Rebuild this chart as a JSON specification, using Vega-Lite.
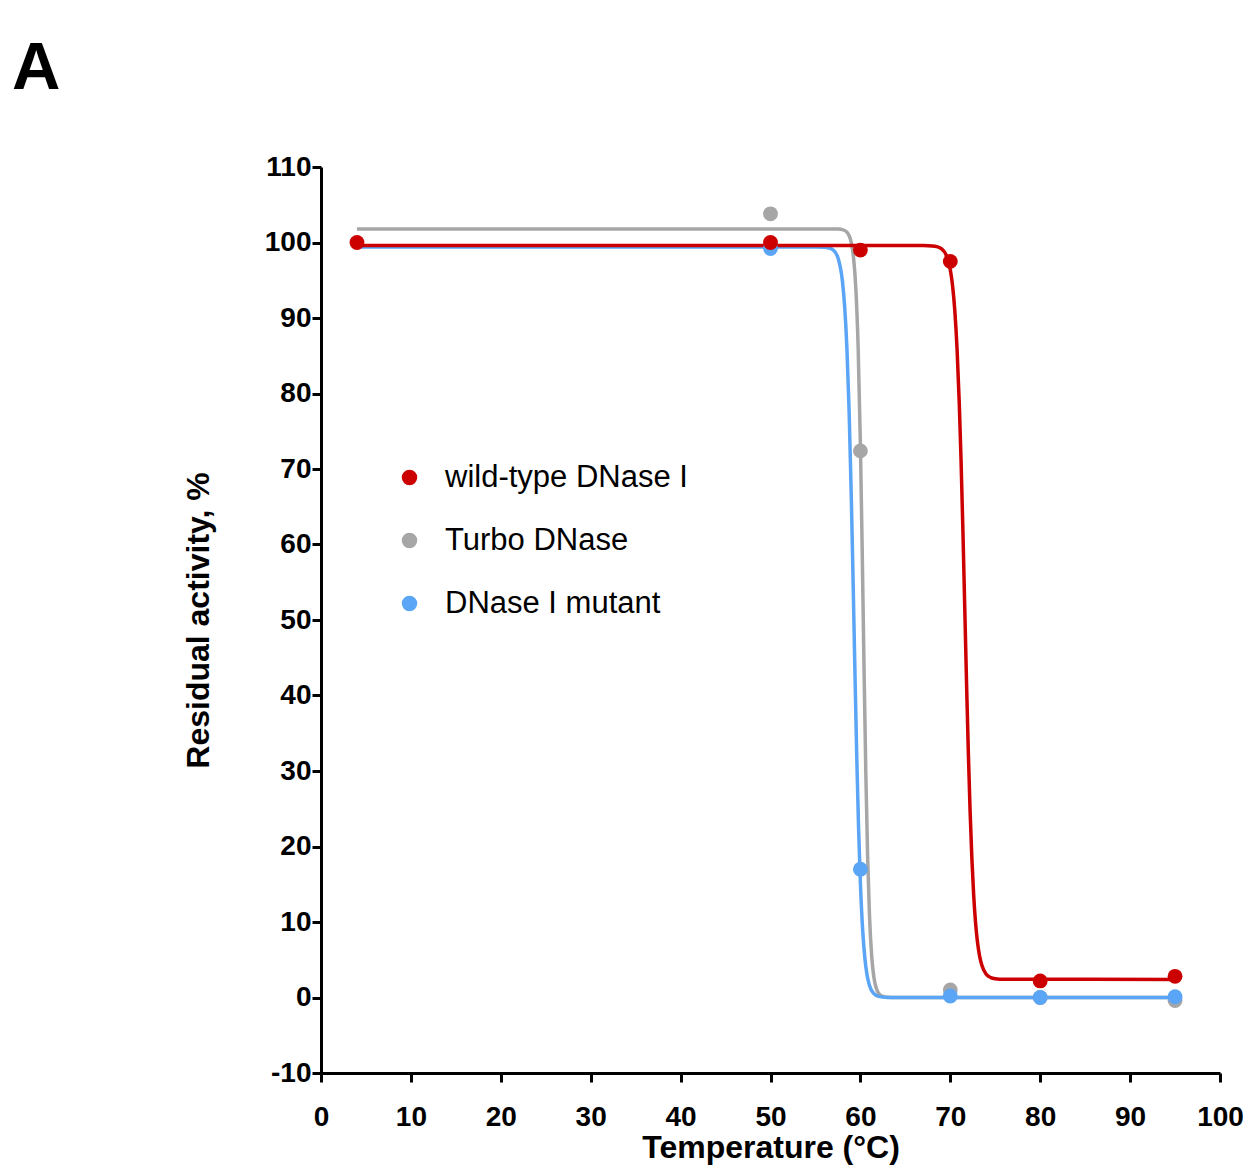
{
  "$schema": "https://vega.github.io/schema/vega-lite/v6.json",
  "width": 899,
  "height": 906,
  "autosize": {"type": "none"},
  "padding": {"left": 321, "top": 167, "right": 29, "bottom": 97},
  "background": "white",
  "title": {
    "text": "A",
    "anchor": "start",
    "frame": "group",
    "font": "Liberation Sans",
    "fontSize": 67,
    "fontWeight": "bold",
    "color": "black",
    "dx": -309,
    "dy": 7,
    "baseline": "alphabetic"
  },
  "datasets": {
    "points": [
      {"series": "Turbo DNase", "temp": 50, "activity": 103.8},
      {"series": "Turbo DNase", "temp": 60, "activity": 72.4},
      {"series": "Turbo DNase", "temp": 70, "activity": 1.0},
      {"series": "Turbo DNase", "temp": 80, "activity": 0.0},
      {"series": "Turbo DNase", "temp": 95, "activity": -0.4},
      {"series": "DNase I mutant", "temp": 50, "activity": 99.2},
      {"series": "DNase I mutant", "temp": 60, "activity": 17.0},
      {"series": "DNase I mutant", "temp": 70, "activity": 0.2},
      {"series": "DNase I mutant", "temp": 80, "activity": 0.0},
      {"series": "DNase I mutant", "temp": 95, "activity": 0.1},
      {"series": "wild-type DNase I", "temp": 4, "activity": 100.0},
      {"series": "wild-type DNase I", "temp": 50, "activity": 100.0},
      {"series": "wild-type DNase I", "temp": 60, "activity": 99.0},
      {"series": "wild-type DNase I", "temp": 70, "activity": 97.5},
      {"series": "wild-type DNase I", "temp": 80, "activity": 2.2},
      {"series": "wild-type DNase I", "temp": 95, "activity": 2.8}
    ],
    "curves": [
      {"series": "Turbo DNase", "temp": 4, "activity": 101.8},
      {"series": "Turbo DNase", "temp": 56, "activity": 101.8},
      {"series": "Turbo DNase", "temp": 57, "activity": 101.8},
      {"series": "Turbo DNase", "temp": 57.5, "activity": 101.78},
      {"series": "Turbo DNase", "temp": 58, "activity": 101.71},
      {"series": "Turbo DNase", "temp": 58.5, "activity": 101.38},
      {"series": "Turbo DNase", "temp": 59, "activity": 99.91},
      {"series": "Turbo DNase", "temp": 59.25, "activity": 97.86},
      {"series": "Turbo DNase", "temp": 59.5, "activity": 93.75},
      {"series": "Turbo DNase", "temp": 59.75, "activity": 86.03},
      {"series": "Turbo DNase", "temp": 60, "activity": 73.18},
      {"series": "Turbo DNase", "temp": 60.2, "activity": 59.31},
      {"series": "Turbo DNase", "temp": 60.4, "activity": 44.0},
      {"series": "Turbo DNase", "temp": 60.6, "activity": 29.87},
      {"series": "Turbo DNase", "temp": 60.8, "activity": 18.8},
      {"series": "Turbo DNase", "temp": 61, "activity": 11.2},
      {"series": "Turbo DNase", "temp": 61.25, "activity": 5.58},
      {"series": "Turbo DNase", "temp": 61.5, "activity": 2.69},
      {"series": "Turbo DNase", "temp": 61.75, "activity": 1.28},
      {"series": "Turbo DNase", "temp": 62, "activity": 0.6},
      {"series": "Turbo DNase", "temp": 62.5, "activity": 0.13},
      {"series": "Turbo DNase", "temp": 63, "activity": 0.03},
      {"series": "Turbo DNase", "temp": 64, "activity": 0.0},
      {"series": "Turbo DNase", "temp": 95, "activity": 0.0},
      {"series": "DNase I mutant", "temp": 4, "activity": 99.4},
      {"series": "DNase I mutant", "temp": 55, "activity": 99.4},
      {"series": "DNase I mutant", "temp": 56, "activity": 99.36},
      {"series": "DNase I mutant", "temp": 56.5, "activity": 99.27},
      {"series": "DNase I mutant", "temp": 57, "activity": 98.97},
      {"series": "DNase I mutant", "temp": 57.5, "activity": 97.99},
      {"series": "DNase I mutant", "temp": 58, "activity": 94.89},
      {"series": "DNase I mutant", "temp": 58.25, "activity": 91.52},
      {"series": "DNase I mutant", "temp": 58.5, "activity": 85.98},
      {"series": "DNase I mutant", "temp": 58.75, "activity": 77.47},
      {"series": "DNase I mutant", "temp": 59, "activity": 65.68},
      {"series": "DNase I mutant", "temp": 59.2, "activity": 54.42},
      {"series": "DNase I mutant", "temp": 59.4, "activity": 42.65},
      {"series": "DNase I mutant", "temp": 59.6, "activity": 31.63},
      {"series": "DNase I mutant", "temp": 59.8, "activity": 22.34},
      {"series": "DNase I mutant", "temp": 60, "activity": 15.17},
      {"series": "DNase I mutant", "temp": 60.25, "activity": 8.98},
      {"series": "DNase I mutant", "temp": 60.5, "activity": 5.16},
      {"series": "DNase I mutant", "temp": 60.75, "activity": 2.91},
      {"series": "DNase I mutant", "temp": 61, "activity": 1.63},
      {"series": "DNase I mutant", "temp": 61.5, "activity": 0.5},
      {"series": "DNase I mutant", "temp": 62, "activity": 0.15},
      {"series": "DNase I mutant", "temp": 63, "activity": 0.01},
      {"series": "DNase I mutant", "temp": 95, "activity": 0.0},
      {"series": "wild-type DNase I", "temp": 4, "activity": 99.6},
      {"series": "wild-type DNase I", "temp": 66, "activity": 99.6},
      {"series": "wild-type DNase I", "temp": 67, "activity": 99.59},
      {"series": "wild-type DNase I", "temp": 68, "activity": 99.55},
      {"series": "wild-type DNase I", "temp": 68.5, "activity": 99.45},
      {"series": "wild-type DNase I", "temp": 69, "activity": 99.19},
      {"series": "wild-type DNase I", "temp": 69.5, "activity": 98.44},
      {"series": "wild-type DNase I", "temp": 70, "activity": 96.39},
      {"series": "wild-type DNase I", "temp": 70.25, "activity": 94.31},
      {"series": "wild-type DNase I", "temp": 70.5, "activity": 91.0},
      {"series": "wild-type DNase I", "temp": 70.75, "activity": 85.96},
      {"series": "wild-type DNase I", "temp": 71, "activity": 78.65},
      {"series": "wild-type DNase I", "temp": 71.2, "activity": 71.0},
      {"series": "wild-type DNase I", "temp": 71.4, "activity": 61.95},
      {"series": "wild-type DNase I", "temp": 71.6, "activity": 52.01},
      {"series": "wild-type DNase I", "temp": 71.8, "activity": 41.99},
      {"series": "wild-type DNase I", "temp": 72, "activity": 32.71},
      {"series": "wild-type DNase I", "temp": 72.2, "activity": 24.75},
      {"series": "wild-type DNase I", "temp": 72.4, "activity": 18.39},
      {"series": "wild-type DNase I", "temp": 72.6, "activity": 13.57},
      {"series": "wild-type DNase I", "temp": 72.8, "activity": 10.06},
      {"series": "wild-type DNase I", "temp": 73, "activity": 7.59},
      {"series": "wild-type DNase I", "temp": 73.25, "activity": 5.55},
      {"series": "wild-type DNase I", "temp": 73.5, "activity": 4.3},
      {"series": "wild-type DNase I", "temp": 74, "activity": 3.08},
      {"series": "wild-type DNase I", "temp": 74.5, "activity": 2.64},
      {"series": "wild-type DNase I", "temp": 75, "activity": 2.49},
      {"series": "wild-type DNase I", "temp": 76, "activity": 2.41},
      {"series": "wild-type DNase I", "temp": 95, "activity": 2.4}
    ]
  },
  "config": {
    "view": {"stroke": null},
    "axis": {
      "domainColor": "black",
      "domainWidth": 3,
      "tickColor": "black",
      "tickWidth": 3,
      "tickSize": 9,
      "grid": false,
      "labelFlush": false,
      "labelFont": "Liberation Sans",
      "labelFontWeight": "bold",
      "labelFontSize": 28,
      "labelColor": "black",
      "titleFont": "Liberation Sans",
      "titleFontWeight": "bold",
      "titleFontSize": 32,
      "titleColor": "black"
    },
    "legend": {
      "labelFont": "Liberation Sans",
      "labelFontSize": 31,
      "labelColor": "black",
      "labelLimit": 600
    }
  },
  "resolve": {"legend": {"color": "independent"}},
  "layer": [
    {
      "data": {"name": "curves"},
      "mark": {"type": "line", "strokeWidth": 3.5, "interpolate": "monotone"},
      "encoding": {
        "x": {"field": "temp", "type": "quantitative"},
        "y": {"field": "activity", "type": "quantitative"},
        "color": {"field": "series", "type": "nominal", "legend": null},
        "detail": {"field": "series"}
      }
    },
    {
      "data": {"name": "points"},
      "mark": {"type": "point", "filled": true, "opacity": 1, "size": 220, "shape": "circle"},
      "encoding": {
        "x": {
          "field": "temp",
          "type": "quantitative",
          "scale": {"domain": [0, 100], "nice": false, "zero": false},
          "axis": {
            "values": [0, 10, 20, 30, 40, 50, 60, 70, 80, 90, 100],
            "title": "Temperature (°C)",
            "labelPadding": 21,
            "titlePadding": 1
          }
        },
        "y": {
          "field": "activity",
          "type": "quantitative",
          "scale": {"domain": [-10, 110], "nice": false, "zero": false},
          "axis": {
            "values": [-10, 0, 10, 20, 30, 40, 50, 60, 70, 80, 90, 100, 110],
            "labelExpr": "replace(datum.label, '−', '-')",
            "title": "Residual activity, %",
            "labelPadding": 1,
            "titlePadding": 49
          }
        },
        "color": {
          "field": "series",
          "type": "nominal",
          "scale": {
            "domain": ["wild-type DNase I", "Turbo DNase", "DNase I mutant"],
            "range": ["#cc0000", "#a6a6a6", "#5aa5f5"]
          },
          "legend": {
            "title": null,
            "orient": "none",
            "legendX": 73,
            "legendY": 295,
            "padding": 0,
            "symbolType": "circle",
            "symbolSize": 240,
            "symbolStrokeWidth": 0,
            "labelOffset": 20,
            "rowPadding": 31
          }
        }
      }
    }
  ]
}
